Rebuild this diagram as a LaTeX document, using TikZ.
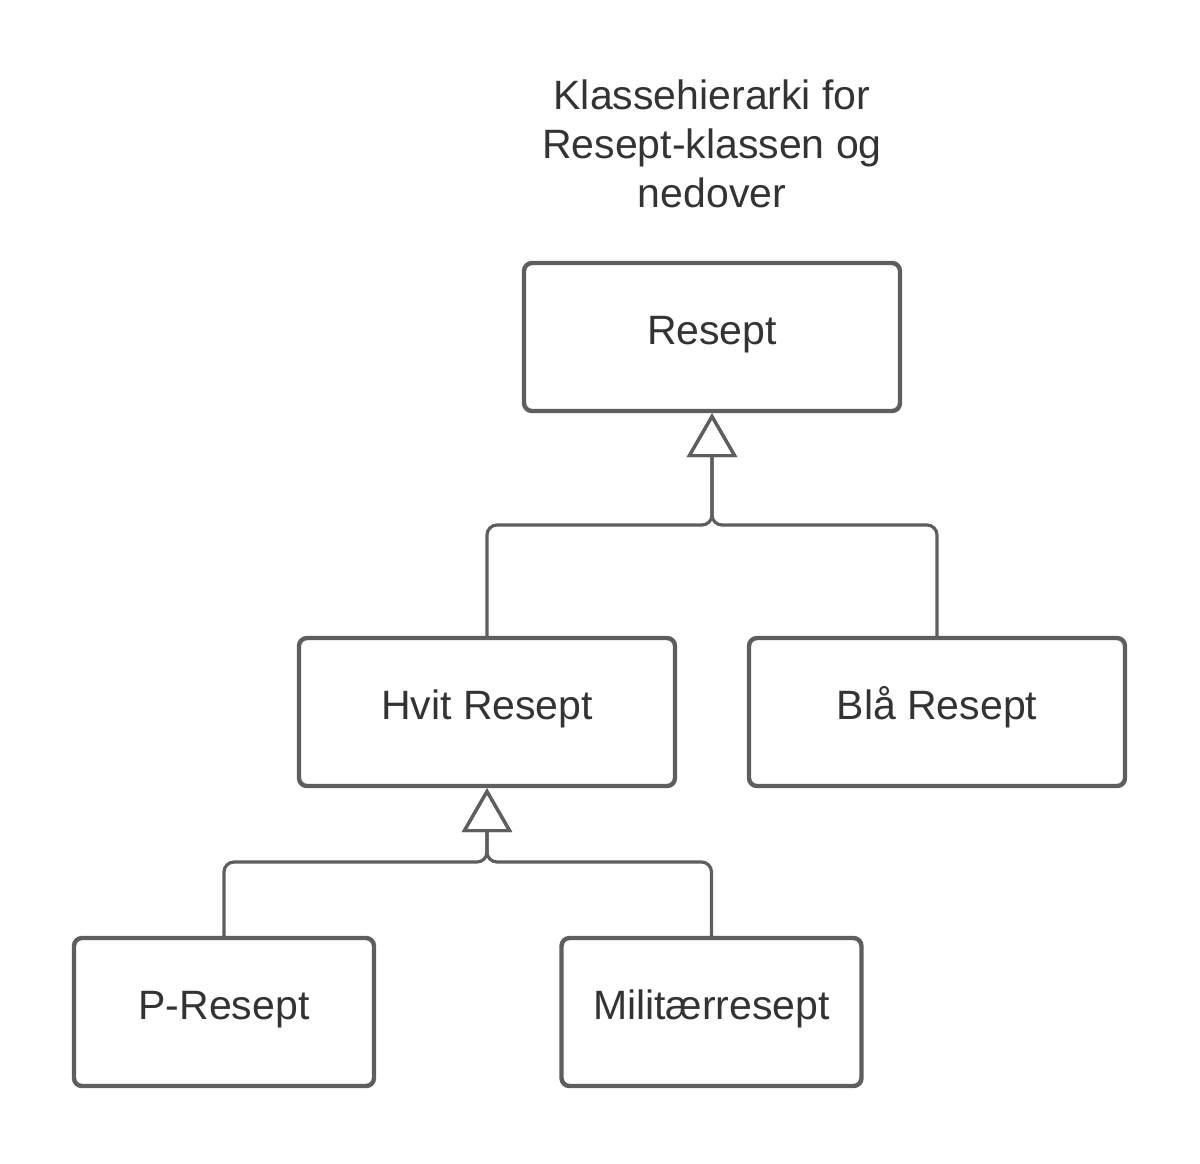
\documentclass[tikz,border=0pt]{standalone}
\usepackage{fontspec}
\setmainfont{Liberation Sans}
\usetikzlibrary{arrows.meta}
\definecolor{linegray}{RGB}{94,94,94}
\definecolor{textgray}{RGB}{51,51,51}
\tikzset{
  classbox/.style={draw=linegray, line width=2.2pt, rounded corners=4pt, fill=white,
    minimum width=#1, minimum height=74pt, inner sep=0pt, text=textgray,
    text height=15pt, text depth=7.5pt,
    font=\fontsize{20.5pt}{24.5pt}\selectfont},
  inherit/.style={draw=linegray, line width=1.6pt, rounded corners=5pt,
    -{Triangle[open, length=22pt, width=25pt, line width=1.6pt]}},
  titletext/.style={text=textgray, align=center, font=\fontsize{20.5pt}{24.5pt}\selectfont}
}
\begin{document}
\begin{tikzpicture}[x=0.5pt, y=-0.5pt]
\useasboundingbox (0,0) rectangle (1200,1163);
\node[titletext] (title) at (712,144) {Klassehierarki for\\Resept-klassen og\\nedover};
\node[classbox=188pt] (resept) at (712,337) {Resept};
\node[classbox=188pt] (hvit) at (487,712) {Hvit Resept};
\node[classbox=188pt] (bla) at (937,712) {Blå Resept};
\node[classbox=150pt] (pres) at (224,1012) {P-Resept};
\node[classbox=150pt] (mil) at (711.5,1012) {Militærresept};
\coordinate (j1) at (712,525);
\coordinate (j2) at (487,862);
\draw[inherit] (hvit.north) |- (j1) -- (resept.south);
\draw[inherit] (bla.north) |- (j1) -- (resept.south);
\draw[inherit] (pres.north) |- (j2) -- (hvit.south);
\draw[inherit] (mil.north) |- (j2) -- (hvit.south);
\end{tikzpicture}
\end{document}
